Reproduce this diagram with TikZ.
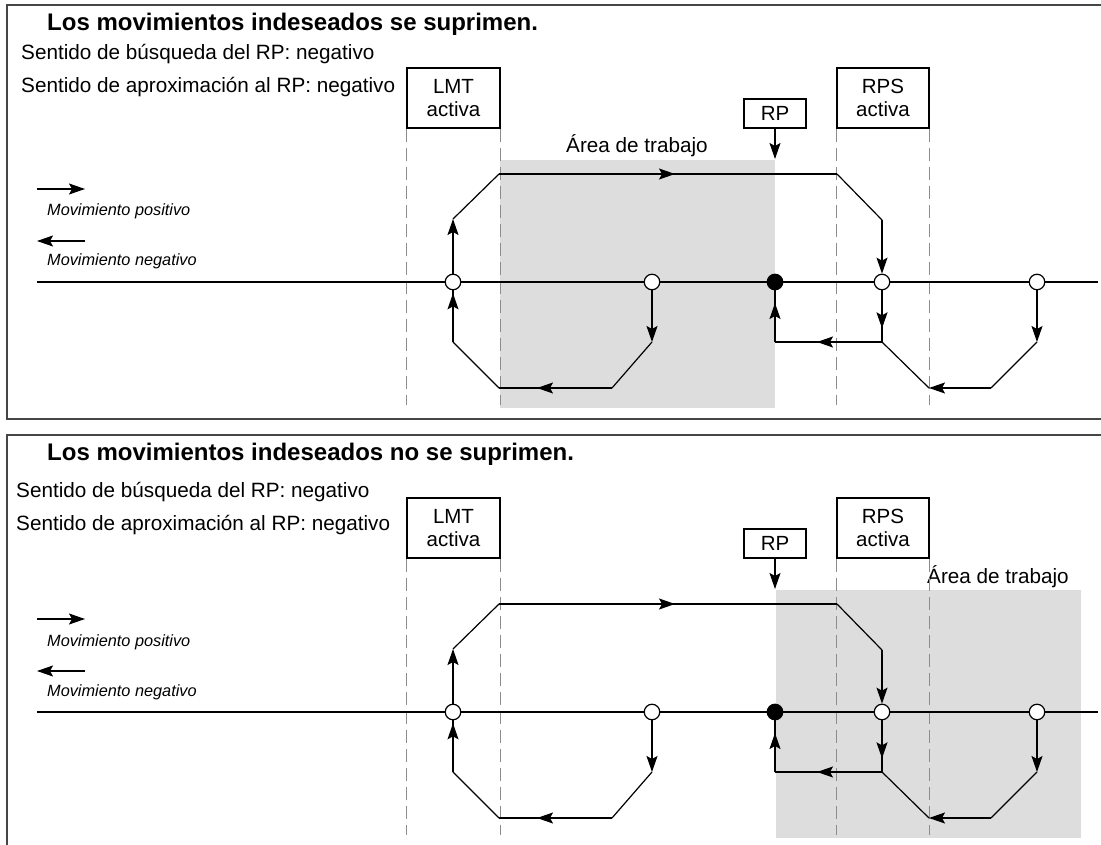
\documentclass[tikz,border=0pt]{standalone}
\usepackage{fontspec}
\setmainfont{Liberation Sans}
\usetikzlibrary{arrows.meta, decorations.markings}

\definecolor{areagris}{RGB}{221,221,221}
\definecolor{marco}{RGB}{70,70,70}
\definecolor{guia}{RGB}{140,140,140}

\begin{document}
\begin{tikzpicture}[
    x=1pt, y=-1pt,
    pfeil/.tip={Stealth[length=16pt, width=11pt, inset=3pt]},
    frame/.style={draw=marco, line width=1.5pt},
    guide/.style={draw=guia, line width=1.3pt, dash pattern=on 13pt off 6pt},
    flow/.style={line width=1.2pt},
    move/.style={flow, -pfeil},
    box/.style={draw, line width=1.2pt, inner sep=0pt, align=center, font=\fontsize{20.5}{23.5}\selectfont},
    spot/.style={circle, draw, line width=1.2pt, fill=white, minimum size=15.5pt, inner sep=0pt},
    rpspot/.style={spot, fill=black},
    txt/.style={anchor=base west, inner sep=0pt, font=\fontsize{20.7}{24}\selectfont},
    title/.style={anchor=base west, inner sep=0pt, font=\fontsize{24}{28}\selectfont\bfseries},
    legend/.style={anchor=base west, inner sep=0pt, font=\fontsize{16.3}{19}\selectfont\itshape},
    arrow at/.style={postaction={decorate}, decoration={markings, mark=at position #1 with {\arrow{pfeil}}}},
    long arrow at/.style={postaction={decorate}, decoration={markings, mark=at position #1 with {\draw[line width=2.2pt] (-45pt,0pt) -- (-12pt,0pt); \arrow{pfeil}}}}
]
\useasboundingbox (0,0) rectangle (1101,845);

% Frames of both panels
\draw[frame] (1101,5) -- (7,5) -- (7,419) -- (1101,419);
\draw[frame] (1101,435) -- (7,435) -- (7,845);

% Working areas
\fill[areagris] (500,160) rectangle (775,408);
\fill[areagris] (776,590) rectangle (1081,838);
\node[anchor=base, inner sep=0pt, font=\fontsize{20.7}{24}\selectfont] (area1) at (637,153) {Área de trabajo};
\node[txt] (area2) at (927,583) {Área de trabajo};

% Headings
\node[title] (title1) at (47,31) {Los movimientos indeseados se suprimen.};
\node[txt] (search1) at (21,59.5) {Sentido de búsqueda del RP: negativo};
\node[txt] (approach1) at (21,92.5) {Sentido de aproximación al RP: negativo};

\node[title] (title2) at (47,460) {Los movimientos indeseados no se suprimen.};
\node[txt] (search2) at (16,497) {Sentido de búsqueda del RP: negativo};
\node[txt] (approach2) at (16,530) {Sentido de aproximación al RP: negativo};

% Same axis and movements in both panels
\foreach \dy in {0,430} {
\begin{scope}[yshift=-\dy pt]
  % switches and reference point
  \node[box, minimum width=93pt, minimum height=60pt] (lmt) at (453.5,98) {LMT\\activa};
  \node[box, minimum width=92pt, minimum height=60pt] (rps) at (883,98) {RPS\\activa};
  \node[box, minimum width=62pt, minimum height=29pt] (rp) at (775,113.5) {RP};
  \coordinate (guideend) at (0,405);
  \coordinate (rptip) at (775,159);

  \draw[guide] (lmt.south west) -- (lmt.south west |- guideend);
  \draw[guide] (lmt.south east) -- (lmt.south east |- guideend);
  \draw[guide] (rps.south west) -- (rps.south west |- guideend);
  \draw[guide] (rps.south east) -- (rps.south east |- guideend);
  \draw[move] (rp) -- (rptip);

  % legend
  \coordinate (posl) at (37,189);
  \coordinate (posr) at (85,189);
  \coordinate (negl) at (37,241);
  \coordinate (negr) at (85,241);
  \draw[move] (posl) -- (posr);
  \draw[move] (negr) -- (negl);
  \node[legend] (posmov) at (47,216) {Movimiento positivo};
  \node[legend] (negmov) at (47,266) {Movimiento negativo};

  % axis with start positions
  \coordinate (axl) at (37,282);
  \coordinate (axr) at (1098,282);
  \draw[line width=1.3pt] (axl) -- (axr);
  \node[spot] (c1) at (453,282) {};
  \node[spot] (c2) at (652,282) {};
  \node[rpspot] (rpc) at (775,282) {};
  \node[spot] (c3) at (882,282) {};
  \node[spot] (c4) at (1037,282) {};

  % path corners
  \coordinate (ul1) at (453,219);
  \coordinate (ul2) at (499,174);
  \coordinate (ur1) at (837,174);
  \coordinate (ur2) at (882,220);
  \coordinate (bl1) at (453,342);
  \coordinate (bl2) at (499,388);
  \coordinate (bl3) at (612,388);
  \coordinate (bl4) at (652,342);
  \coordinate (rpl) at (775,342);
  \coordinate (r1) at (882,342);
  \coordinate (br1) at (929,388);
  \coordinate (br2) at (991,388);
  \coordinate (br3) at (1037,342);

  % upper loop
  \draw[flow, arrow at=-3pt] (bl1) -- (c1);
  \draw[move] (c1) -- (ul1);
  \draw[flow] (ul1) -- (ul2);
  \draw[flow, long arrow at=176pt] (ul2) -- (ur1);
  \draw[flow] (ur1) -- (ur2);
  \draw[move] (ur2) -- (c3);
  \draw[flow, arrow at=38pt] (c3) -- (r1);
  \draw[flow, long arrow at=65pt] (r1) -- (rpl);
  \draw[flow, arrow at=39pt] (rpl) -- (rpc);

  % lower left loop
  \draw[move] (c2) -- (bl4);
  \draw[flow] (bl4) -- (bl3);
  \draw[flow, long arrow at=75pt] (bl3) -- (bl2);
  \draw[flow] (bl2) -- (bl1);

  % right loop
  \draw[move] (c4) -- (br3);
  \draw[flow] (br3) -- (br2);
  \draw[move] (br2) -- (br1);
  \draw[flow] (br1) -- (r1);
\end{scope}
}

\end{tikzpicture}
\end{document}
